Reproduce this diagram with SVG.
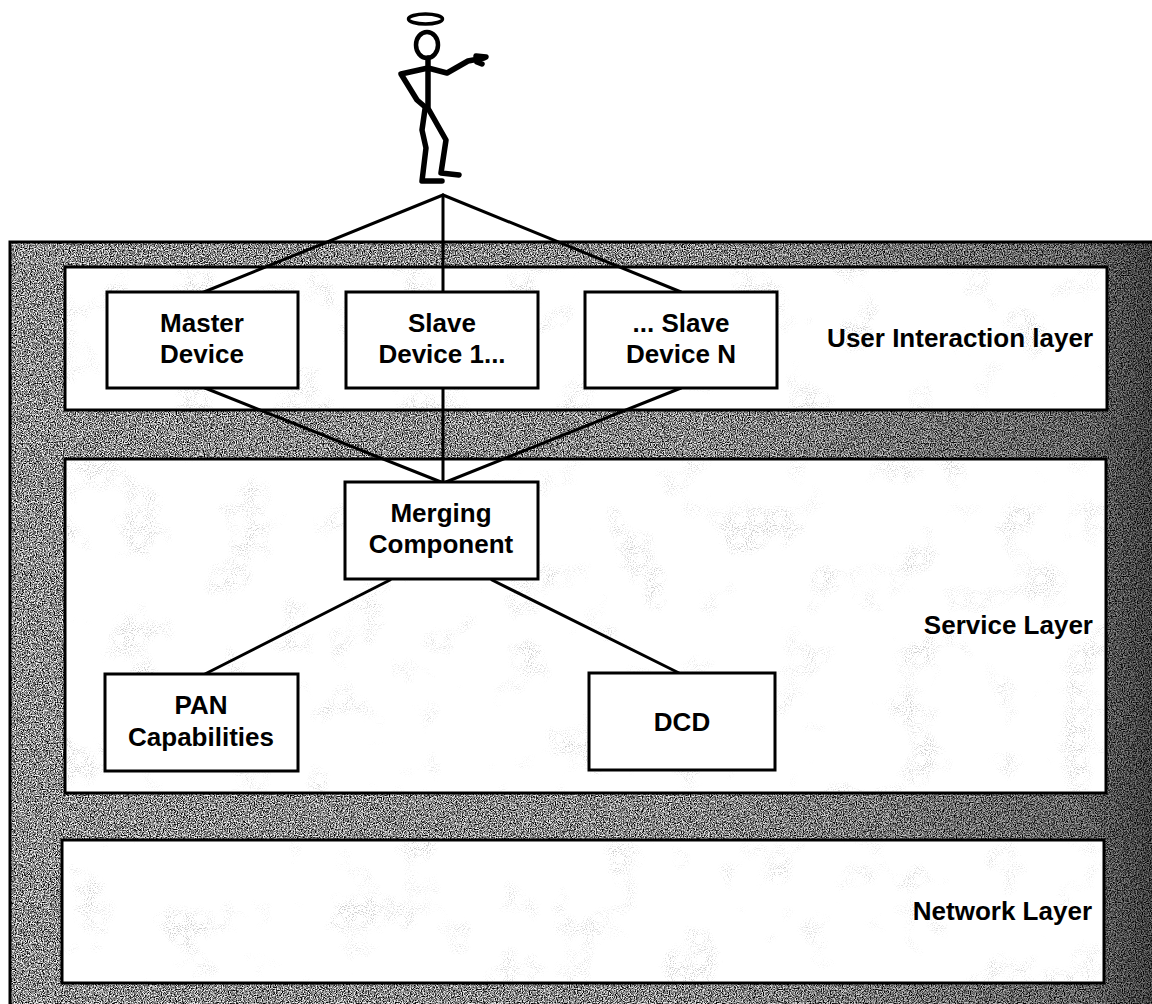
<svg xmlns="http://www.w3.org/2000/svg" width="1152" height="1004" viewBox="0 0 1152 1004">
  <style>
    .layer { fill: #ffffff; stroke: #000; stroke-width: 3; }
    .speck { fill: #000; filter: url(#speckle); opacity: 0.35; }
    .box { fill: #ffffff; stroke: #000; stroke-width: 3; }
    .lbl { font-family: "Liberation Sans", Arial, sans-serif; font-weight: bold; font-size: 26px; fill: #000; text-anchor: middle; }
    .layer-lbl { font-family: "Liberation Sans", Arial, sans-serif; font-weight: bold; font-size: 26px; fill: #000; text-anchor: end; }
    .wire { stroke: #000; stroke-width: 3; fill: none; stroke-linecap: round; }
    .fig { stroke: #000; stroke-width: 5.5; fill: none; stroke-linecap: round; stroke-linejoin: round; }
  </style>
  <defs>
    <!-- grey granular texture for the surrounding frame -->
    <filter id="grain" x="0" y="0" width="100%" height="100%" color-interpolation-filters="sRGB">
      <feTurbulence type="fractalNoise" baseFrequency="0.85" numOctaves="2" seed="4" result="n"/>
      <feColorMatrix in="n" type="matrix" values="1 0 0 0 0  1 0 0 0 0  1 0 0 0 0  0 0 0 0 1" result="g"/>
      <feComponentTransfer in="g" result="c">
        <feFuncR type="linear" slope="2.6" intercept="-0.72"/>
        <feFuncG type="linear" slope="2.6" intercept="-0.72"/>
        <feFuncB type="linear" slope="2.6" intercept="-0.72"/>
      </feComponentTransfer>
      <feComposite in="c" in2="SourceAlpha" operator="in"/>
    </filter>
    <!-- sparse light stipple on the white layer panels -->
    <filter id="speckle" x="0" y="0" width="100%" height="100%" color-interpolation-filters="sRGB">
      <feTurbulence type="fractalNoise" baseFrequency="0.018" numOctaves="3" seed="9" result="blob"/>
      <feColorMatrix in="blob" type="matrix" values="0 0 0 0 0.45  0 0 0 0 0.45  0 0 0 0 0.45  5 0 0 0 -2.8" result="blobA"/>
      <feTurbulence type="fractalNoise" baseFrequency="0.95" numOctaves="1" seed="2" result="fine"/>
      <feColorMatrix in="fine" type="matrix" values="0 0 0 0 0  0 0 0 0 0  0 0 0 0 0  8 0 0 0 -4.4" result="fineA"/>
      <feComposite in="blobA" in2="fineA" operator="in" result="sp"/>
      <feComposite in="sp" in2="SourceAlpha" operator="in"/>
    </filter>
    <linearGradient id="shade" x1="0" y1="0" x2="1" y2="0">
      <stop offset="0" stop-color="#000" stop-opacity="0.05"/>
      <stop offset="0.6" stop-color="#000" stop-opacity="0.1"/>
      <stop offset="0.93" stop-color="#000" stop-opacity="0.35"/>
      <stop offset="1" stop-color="#000" stop-opacity="0.6"/>
    </linearGradient>
  </defs>

  <rect width="1152" height="1004" fill="#ffffff"/>

  <!-- outer textured frame -->
  <g id="frame">
    <rect x="10" y="242" width="1150" height="775" fill="#000" filter="url(#grain)"/>
    <rect x="10" y="242" width="1150" height="775" fill="url(#shade)"/>
    <rect x="10" y="242" width="1150" height="775" fill="none" stroke="#000" stroke-width="3"/>
  </g>

  <!-- layer panels -->
  <g id="user-interaction-layer">
    <rect class="layer" x="65" y="267" width="1042" height="143"/>
    <rect class="speck" x="67" y="269" width="1038" height="139"/>
    <text class="layer-lbl" x="1093" y="347">User Interaction layer</text>
  </g>
  <g id="service-layer">
    <rect class="layer" x="65" y="459" width="1041" height="334"/>
    <rect class="speck" x="67" y="461" width="1037" height="330"/>
    <text class="layer-lbl" x="1093" y="634">Service Layer</text>
  </g>
  <g id="network-layer">
    <rect class="layer" x="62" y="840" width="1042" height="143"/>
    <rect class="speck" x="64" y="842" width="1038" height="139"/>
    <text class="layer-lbl" x="1092" y="920">Network Layer</text>
  </g>

  <!-- connectors -->
  <g id="connectors">
    <line class="wire" x1="443" y1="195" x2="204" y2="292"/>
    <line class="wire" x1="443" y1="195" x2="443" y2="292"/>
    <line class="wire" x1="443" y1="195" x2="681" y2="292"/>
    <line class="wire" x1="205" y1="388" x2="441" y2="482"/>
    <line class="wire" x1="443" y1="388" x2="443" y2="482"/>
    <line class="wire" x1="681" y1="388" x2="446" y2="482"/>
    <line class="wire" x1="390" y1="580" x2="205" y2="674"/>
    <line class="wire" x1="492" y1="580" x2="679" y2="673"/>
  </g>

  <!-- user figure -->
  <g id="user">
    <ellipse cx="425.5" cy="19" rx="17" ry="5" fill="none" stroke="#000" stroke-width="3.5"/>
    <ellipse cx="427" cy="45" rx="11" ry="13" fill="none" stroke="#000" stroke-width="4.5"/>
    <path class="fig" d="M428 58 L428 108"/>
    <path class="fig" d="M428 68 L401 74 L417 100 L424 106"/>
    <path class="fig" d="M428 68 L447 73 L468 61 L484 58"/>
    <path class="fig" d="M476 56 L486 57 M477 62 L482 64"/>
    <path class="fig" d="M425 109 L422 130 L426 148 L422 181 L442 181"/>
    <path class="fig" d="M429 110 L446 140 L441 173 L459 175"/>
  </g>

  <!-- nodes -->
  <g id="master-device">
    <rect class="box" x="107" y="292" width="191" height="96"/>
    <text class="lbl" x="202" y="332">Master</text>
    <text class="lbl" x="202" y="363">Device</text>
  </g>
  <g id="slave-device-1">
    <rect class="box" x="346" y="292" width="192" height="96"/>
    <text class="lbl" x="442" y="332">Slave</text>
    <text class="lbl" x="442" y="363">Device 1...</text>
  </g>
  <g id="slave-device-n">
    <rect class="box" x="585" y="292" width="192" height="96"/>
    <text class="lbl" x="681" y="332">... Slave</text>
    <text class="lbl" x="681" y="363">Device N</text>
  </g>
  <g id="merging-component">
    <rect class="box" x="345" y="482" width="193" height="97"/>
    <text class="lbl" x="441" y="522">Merging</text>
    <text class="lbl" x="441" y="553">Component</text>
  </g>
  <g id="pan-capabilities">
    <rect class="box" x="105" y="674" width="193" height="97"/>
    <text class="lbl" x="201" y="714">PAN</text>
    <text class="lbl" x="201" y="746">Capabilities</text>
  </g>
  <g id="dcd">
    <rect class="box" x="589" y="673" width="186" height="97"/>
    <text class="lbl" x="682" y="731">DCD</text>
  </g>
</svg>
